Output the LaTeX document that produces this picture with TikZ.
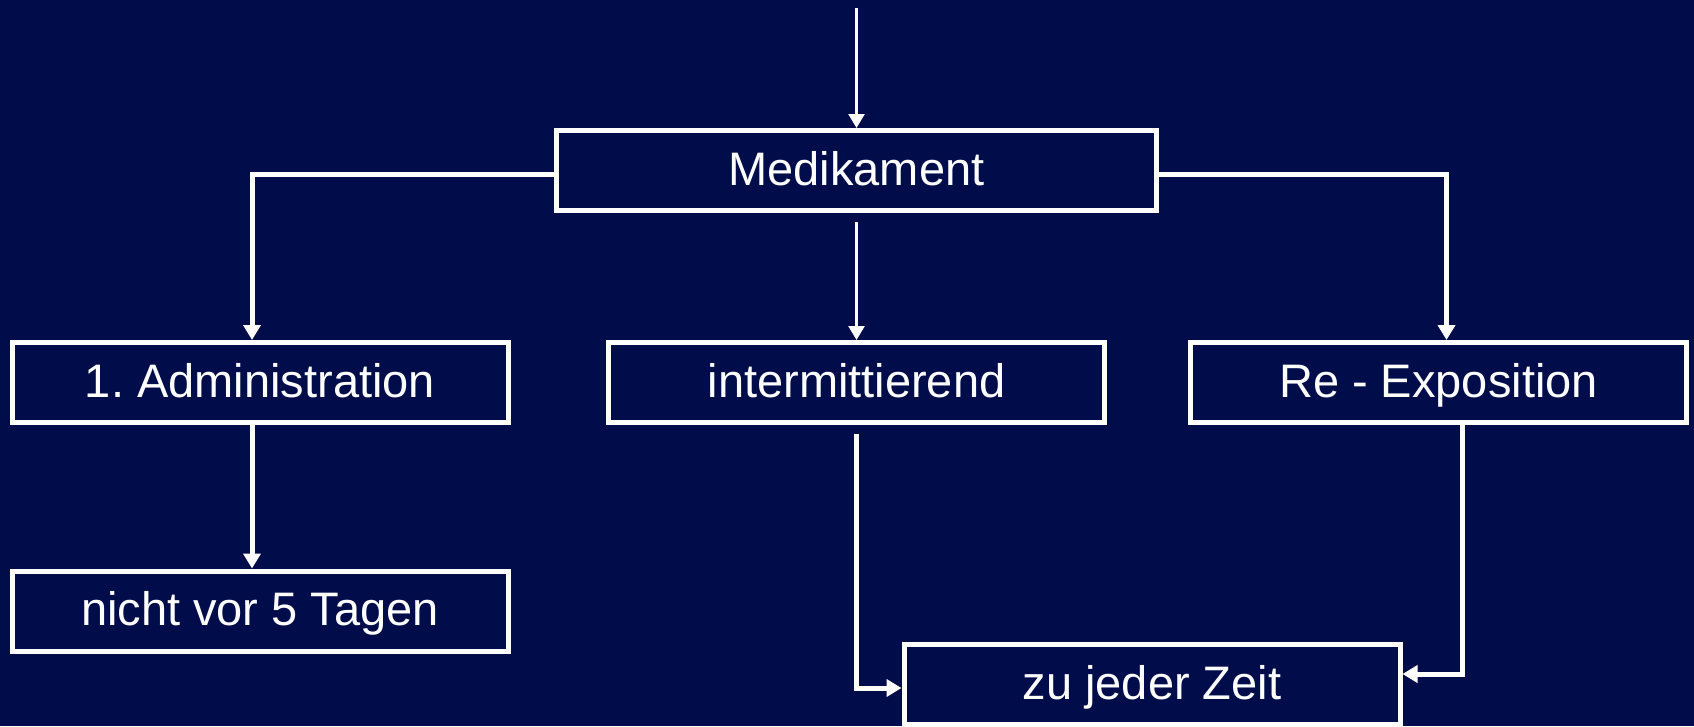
\documentclass[tikz,border=0pt]{standalone}
\usepackage{fontspec}
\setmainfont{Liberation Sans}
\usetikzlibrary{arrows.meta}
\definecolor{bgnavy}{RGB}{0,13,74}
\frenchspacing
\tikzset{
  box/.style={draw=white, line width=5pt, text=white, minimum width=496pt, minimum height=80pt, inner sep=0pt, text height=36.5pt, text depth=7.5pt, font=\fontsize{47}{56}\selectfont},
  thick link/.style={draw=white, line width=5pt, -{Triangle[width=17pt,length=15pt]}},
  thin link/.style={draw=white, line width=2.5pt, -{Triangle[width=16pt,length=14pt]}},
}
\begin{document}
\begin{tikzpicture}[x=1pt,y=1pt]
\useasboundingbox (0,0) rectangle (1694,-726);
\fill[bgnavy] (0,0) rectangle (1694,-726);

\node[box, minimum width=600pt] (med) at (856.5,-170.5) {Medikament};
\node[box] (adm) at (260,-382.5) {1. Administration};
\node[box] (int) at (856.5,-382.5) {intermittierend};
\node[box] (re)  at (1438.5,-382.5) {Re - Exposition};
\node[box] (nic) at (260,-611) {nicht vor 5 Tagen};
\node[box] (zu)  at (1152,-684.5) {zu jeder Zeit};

\coordinate (top) at (856.5,-8);
\draw[thin link] (top) -- (med.north);
\draw[thin link, shorten <=9pt] (med.south) -- (int.north);
\draw[thick link] ([yshift=-3.5pt]med.west) -| ([xshift=-8pt]adm.north);
\draw[thick link] ([yshift=-3.5pt]med.east) -| ([xshift=8pt]re.north);
\draw[thick link] ([xshift=-8pt]adm.south) -- ([xshift=-8pt]nic.north);
\draw[thick link, shorten <=9pt] (int.south) |- ([yshift=-3.5pt]zu.west);
\draw[thick link] ([xshift=23.5pt]re.south) |- ([yshift=10.5pt]zu.east);
\end{tikzpicture}
\end{document}
